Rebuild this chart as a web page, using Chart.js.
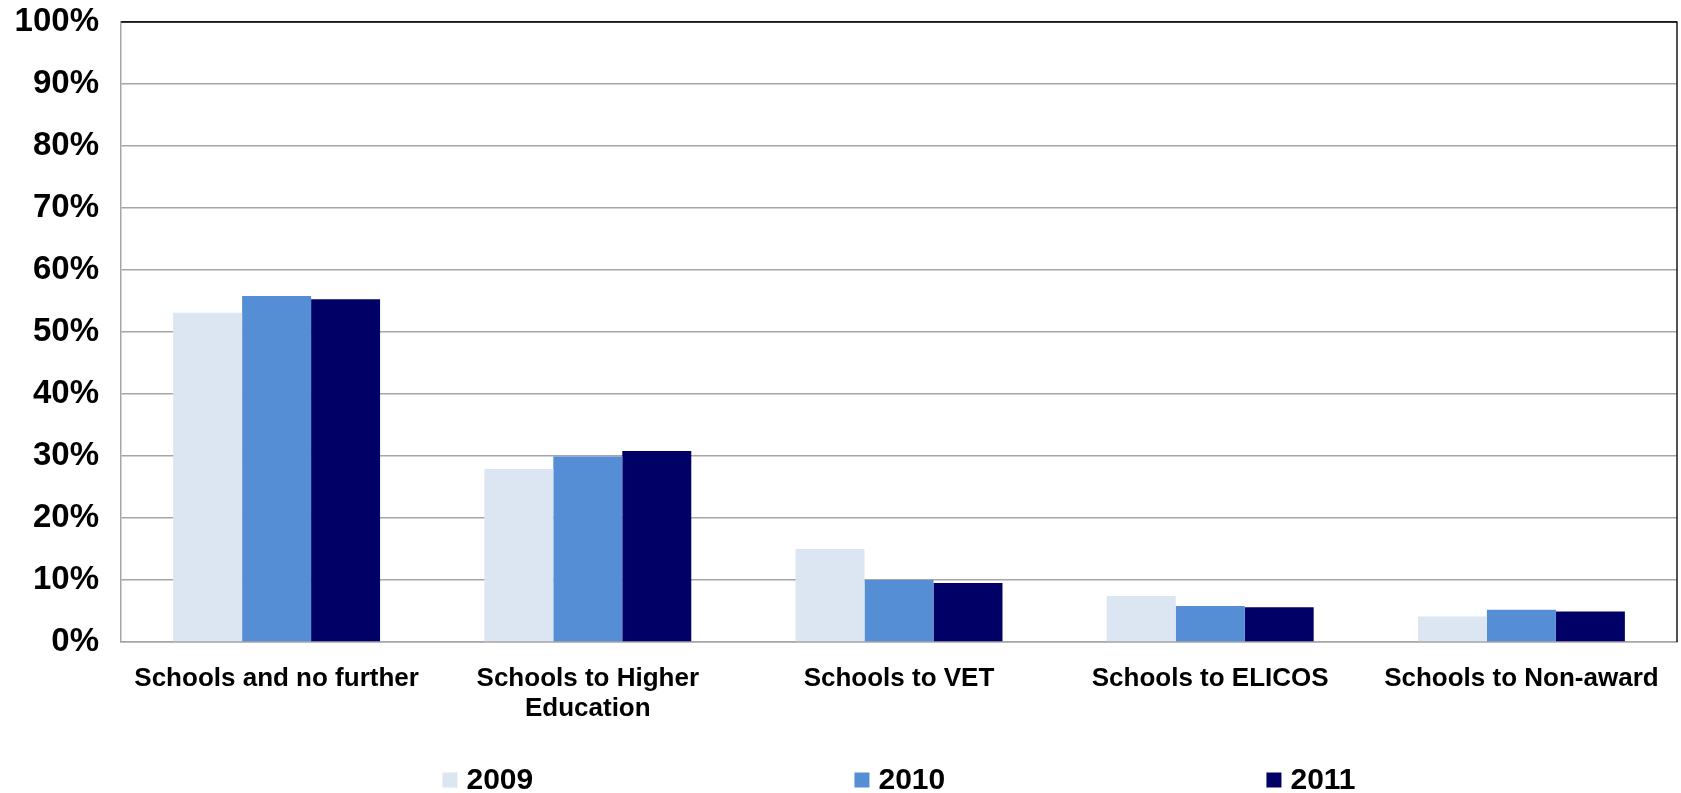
<!DOCTYPE html>
<html>
<head>
<meta charset="utf-8">
<script src="https://cdn.jsdelivr.net/npm/chart.js@4/dist/chart.umd.min.js"></script>
<style>
  html, body { margin: 0; padding: 0; background: #fff; overflow: hidden; }
  canvas { display: block; }
</style>
</head>
<body>
<canvas id="chart" width="1681" height="793"></canvas>
<script>
// categories and series
const categories = [
  "Schools and no further",
  ["Schools to Higher", "Education"],
  "Schools to VET",
  "Schools to ELICOS",
  "Schools to Non-award"
];
const years = ["2009", "2010", "2011"];
const values2009 = [53.1, 27.9, 15.0, 7.4, 4.1];
const values2010 = [55.8, 29.9, 10.0, 5.8, 5.2];
const values2011 = [55.3, 30.8, 9.5, 5.6, 4.9];
const colors = ["#DCE6F2", "#558ED5", "#000066"];

const fontFamily = "'Liberation Sans', Arial, sans-serif";

// draws the dark top/right frame of the plot
const frame = {
  id: "frame",
  afterDraw(chart) {
    const { ctx, chartArea } = chart;
    ctx.save();
    ctx.strokeStyle = "#1a1a1a";
    ctx.lineWidth = 1.5;
    ctx.beginPath();
    ctx.moveTo(chartArea.left, chartArea.top);
    ctx.lineTo(chartArea.right, chartArea.top);
    ctx.lineTo(chartArea.right, chartArea.bottom);
    ctx.stroke();
    ctx.restore();
  }
};

// legend along the bottom, spread wide like the original
const wideLegend = {
  id: "wideLegend",
  afterDraw(chart) {
    const { ctx, chartArea } = chart;
    const gap = 412;
    const box = 15;
    ctx.save();
    ctx.font = "bold 30px " + fontFamily;
    ctx.textBaseline = "middle";
    ctx.textAlign = "left";
    const lastW = box + 9 + ctx.measureText(years[years.length - 1]).width;
    const total = gap * (years.length - 1) + lastW;
    let x = (chartArea.left + chartArea.right) / 2 - total / 2;
    const y = chartArea.bottom + 138;
    chart.data.datasets.forEach((ds, i) => {
      ctx.fillStyle = ds.backgroundColor;
      ctx.fillRect(x, y - box / 2, box, box);
      ctx.fillStyle = "#000";
      ctx.fillText(ds.label, x + box + 9, y + 1);
      x += gap;
    });
    ctx.restore();
  }
};

new Chart(document.getElementById("chart").getContext("2d"), {
  type: "bar",
  data: {
    labels: categories,
    datasets: [
      { label: years[0], data: values2009, backgroundColor: colors[0] },
      { label: years[1], data: values2010, backgroundColor: colors[1] },
      { label: years[2], data: values2011, backgroundColor: colors[2] }
    ]
  },
  options: {
    responsive: false,
    animation: false,
    devicePixelRatio: 1,
    layout: { padding: { top: 22, right: 4, left: 0, bottom: 0 } },
    datasets: {
      bar: { categoryPercentage: 0.665, barPercentage: 1.0 }
    },
    plugins: {
      legend: { display: false },
      tooltip: { enabled: false }
    },
    scales: {
      x: {
        grid: { display: false, drawTicks: false },
        border: { display: true, color: "#a6a6a6", width: 1.5 },
        ticks: {
          color: "#000",
          padding: 22,
          maxRotation: 0,
          autoSkip: false,
          font: { family: fontFamily, size: 26, weight: "bold", lineHeight: 1.15 }
        },
        afterFit(scale) {
          scale.height = 151;
          scale.paddingLeft = 0;
          scale.paddingRight = 0;
        }
      },
      y: {
        min: 0,
        max: 100,
        grid: {
          drawTicks: false,
          lineWidth: 1.5,
          color: (c) => (c.tick && c.tick.value === 100 ? "#1a1a1a" : "#a6a6a6")
        },
        border: { display: true, color: "#a6a6a6", width: 1.5 },
        ticks: {
          stepSize: 10,
          color: "#000",
          padding: 22,
          font: { family: fontFamily, size: 33, weight: "bold" },
          callback: (v) => v + "%"
        },
        afterFit(scale) {
          scale.width = 121;
          scale.paddingTop = 0;
          scale.paddingBottom = 0;
        }
      }
    }
  },
  plugins: [frame, wideLegend]
});
</script>
</body>
</html>
